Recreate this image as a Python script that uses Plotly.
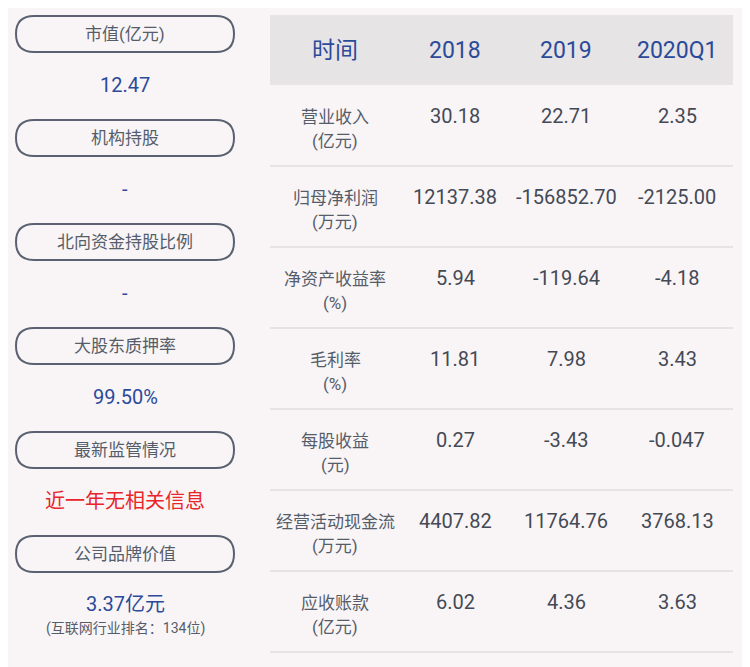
import plotly.graph_objects as go

left_labels = ["市值(亿元)", "机构持股", "北向资金持股比例", "大股东质押率", "最新监管情况", "公司品牌价值"]
left_values = ["12.47", "-", "-", "99.50%", "近一年无相关信息", "3.37亿元"]
left_colors = ["#2b4a9a", "#2b4a9a", "#2b4a9a", "#2b4a9a", "#e8262a", "#2b4a9a"]
brand_note = "(互联网行业排名：134位)"

headers = ["时间", "2018", "2019", "2020Q1"]
row_names = ["营业收入", "归母净利润", "净资产收益率", "毛利率", "每股收益", "经营活动现金流", "应收账款"]
row_units = ["(亿元)", "(万元)", "(%)", "(%)", "(元)", "(万元)", "(亿元)"]
v2018 = ["30.18", "12137.38", "5.94", "11.81", "0.27", "4407.82", "6.02"]
v2019 = ["22.71", "-156852.70", "-119.64", "7.98", "-3.43", "11764.76", "4.36"]
v2020 = ["2.35", "-2125.00", "-4.18", "3.43", "-0.047", "3768.13", "3.63"]

F = "Roboto, Noto Sans CJK SC"
gray = "#555d6b"
shapes, ann = [], []

def rr(x0, y0, x1, y1, r):
    return (f"M{x0+r},{y0} L{x1-r},{y0} Q{x1},{y0} {x1},{y0+r} L{x1},{y1-r} "
            f"Q{x1},{y1} {x1-r},{y1} L{x0+r},{y1} Q{x0},{y1} {x0},{y1-r} "
            f"L{x0},{y0+r} Q{x0},{y0} {x0+r},{y0} Z")

def txt(x, y, t, size, color):
    ann.append(dict(x=x, y=y, text=t, showarrow=False, xref="x", yref="y",
                    font=dict(family=F, size=size, color=color), xanchor="center", yanchor="middle"))

for i, (lab, val, col) in enumerate(zip(left_labels, left_values, left_colors)):
    cy = 34 + 104 * i
    shapes.append(dict(type="path", path=rr(16, cy - 18, 234, cy + 18, 18),
                       line=dict(color="#5a6272", width=2), xref="x", yref="y"))
    txt(125, cy, lab, 17, gray)
    txt(125, cy + 51 if i < 5 else cy + 50, val, 20, col)
txt(125, 628, brand_note, 14, gray)

shapes.append(dict(type="rect", x0=270, x1=733, y0=15, y1=85, fillcolor="#e6e4e5",
                   line=dict(width=0), xref="x", yref="y", layer="below"))
colx = [335, 455, 566, 677]
for x, h in zip(colx, headers):
    txt(x, 50, h, 23, "#2b4a9a")

for i in range(len(row_names)):
    top = 85 + 81 * i
    shapes.append(dict(type="line", x0=270, x1=733, y0=top + 81, y1=top + 81,
                       line=dict(color="#e0dcdd", width=1.5), xref="x", yref="y"))
    txt(colx[0], top + 32, row_names[i], 17, gray)
    txt(colx[0], top + 56, row_units[i], 17, gray)
    for x, v in zip(colx[1:], [v2018[i], v2019[i], v2020[i]]):
        txt(x, top + 31, v, 20, "#444a55")

fig = go.Figure()
fig.update_layout(width=750, height=667, margin=dict(l=0, r=0, t=0, b=0),
                  paper_bgcolor="#f9f5f6", plot_bgcolor="#f9f5f6",
                  xaxis=dict(range=[8, 758], visible=False, fixedrange=True),
                  yaxis=dict(range=[675, 8], visible=False, fixedrange=True),
                  shapes=shapes, annotations=ann, showlegend=False)
fig.write_html("out.html")
